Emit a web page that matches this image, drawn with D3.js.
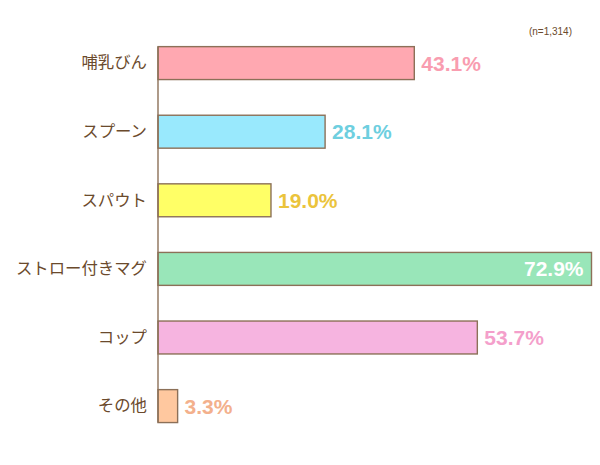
<!DOCTYPE html>
<html><head><meta charset="utf-8">
<script src="https://cdn.jsdelivr.net/npm/d3@7"></script>
<style>
html,body{margin:0;padding:0;background:#fff;}
svg{display:block;}
</style></head>
<body>
<svg id="chart" width="600" height="465"></svg>
<script>
const categories = ["哺乳びん","スプーン","スパウト","ストロー付きマグ","コップ","その他"];
const values = [43.1, 28.1, 19.0, 72.9, 53.7, 3.3];
const barColors = ["#ffa8b1","#99e9fd","#ffff66","#99e6b9","#f6b4e0","#ffc89f"];
const labelColors = ["#f99db0","#6ecfdf","#ebc43c","#ffffff","#f49fcb","#f3b08c"];
const note = "(n=1,314)";

const svg = d3.select("#chart");
const x = d3.scaleLinear().domain([0, 72.9]).range([158, 591.5]);
const y = d3.scaleBand().domain(categories).range([28.8, 440.4]).paddingInner(0.52).paddingOuter(0.26);

const brown = "#6b4a2c";
const edge = "#8c7058";

// bars
svg.append("g").selectAll("rect").data(categories).join("rect")
  .attr("x", x(0))
  .attr("y", d => y(d))
  .attr("width", (d,i) => x(values[i]) - x(0))
  .attr("height", y.bandwidth())
  .attr("fill", (d,i) => barColors[i])
  .attr("stroke", edge)
  .attr("stroke-width", 1.4);

// axis
const yAxis = d3.axisLeft(y).tickSize(0).tickPadding(11);
const ga = svg.append("g").attr("transform", `translate(${x(0)},0)`).call(yAxis);
ga.select(".domain").remove();
ga.selectAll("text")
  .attr("fill", brown)
  .style("font-family", "'Noto Sans CJK JP', sans-serif")
  .style("font-size", "16.4px");
svg.append("line")
  .attr("x1", x(0)).attr("x2", x(0))
  .attr("y1", y(categories[0])).attr("y2", y(categories[categories.length-1]) + y.bandwidth())
  .attr("stroke", edge).attr("stroke-width", 1.4);

// value labels
svg.append("g").selectAll("text").data(categories).join("text")
  .attr("x", (d,i) => i === 3 ? x(values[i]) - 8 : x(values[i]) + 7)
  .attr("y", d => y(d) + y.bandwidth()/2)
  .attr("dy", "0.36em")
  .attr("text-anchor", (d,i) => i === 3 ? "end" : "start")
  .attr("fill", (d,i) => labelColors[i])
  .style("font-family", "'Liberation Sans', Arial, sans-serif")
  .style("font-weight", "bold")
  .style("font-size", "21px")
  .text((d,i) => values[i].toFixed(1) + "%");

svg.append("text")
  .attr("x", 572).attr("y", 35)
  .attr("text-anchor", "end")
  .attr("fill", brown)
  .style("font-family", "'Liberation Sans', Arial, sans-serif")
  .style("font-size", "10px")
  .text(note);
</script>
</body></html>
